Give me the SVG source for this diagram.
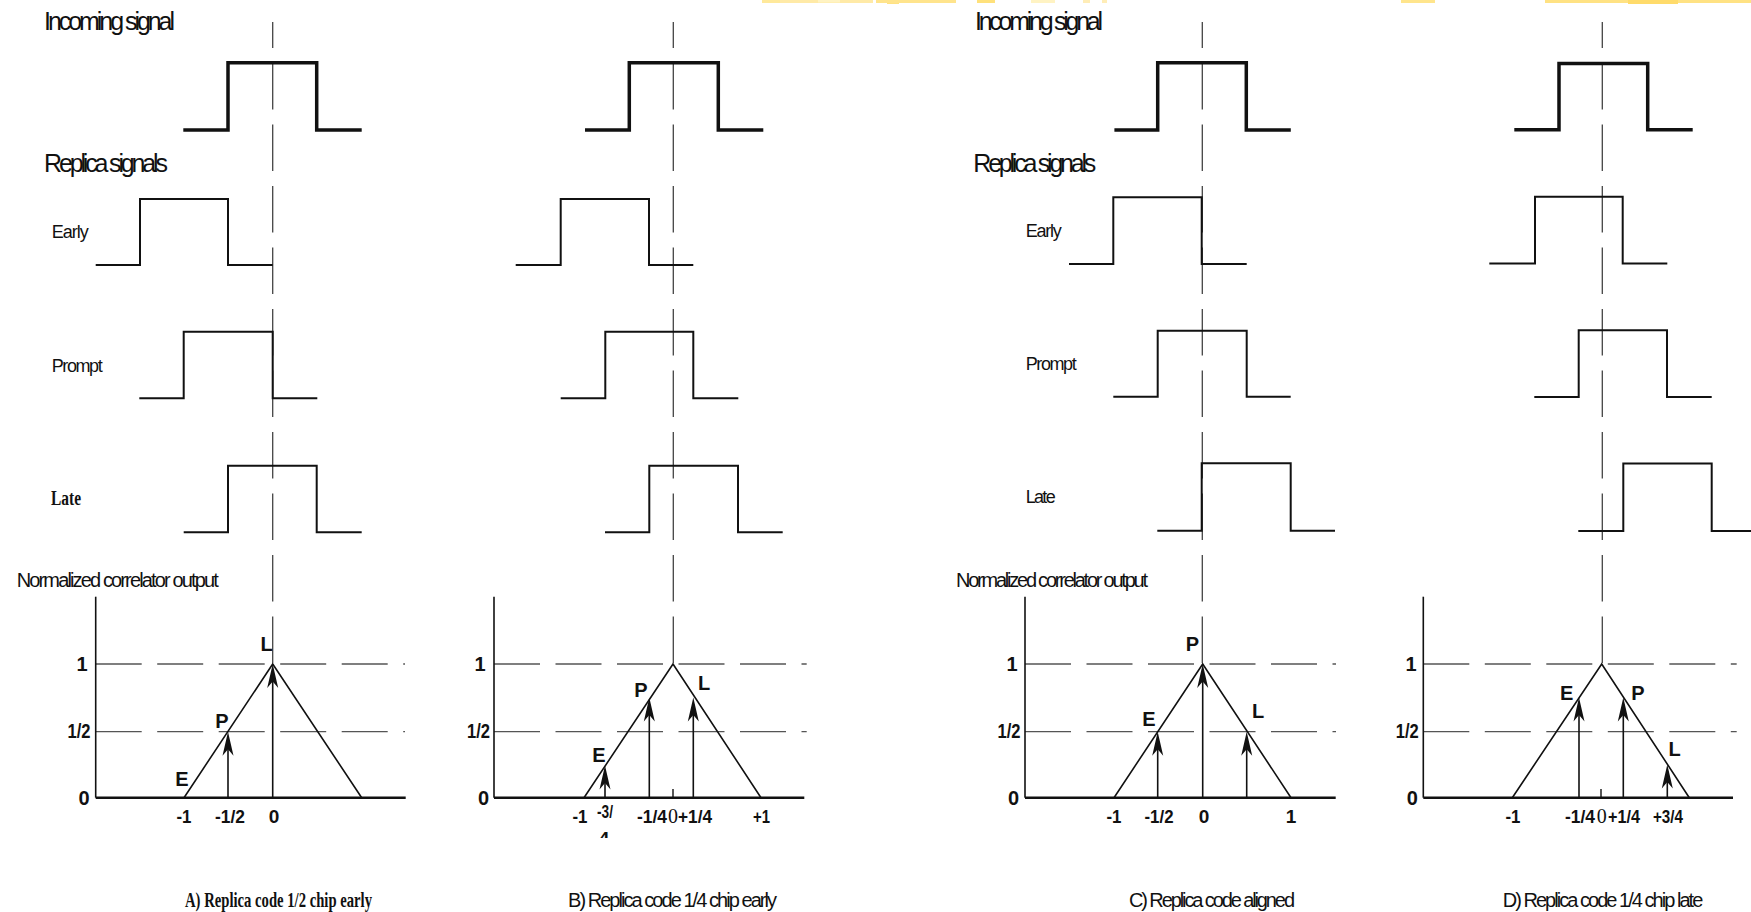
<svg xmlns="http://www.w3.org/2000/svg" width="1751" height="912" viewBox="0 0 1751 912">
  <style>
    .bg { fill: #ffffff; }
    .inc { fill: none; stroke: #111; stroke-width: 3.5; stroke-linejoin: miter; }
    .rep { fill: none; stroke: #111; stroke-width: 2; stroke-linejoin: miter; }
    .vdash { stroke: #444; stroke-width: 1.3; stroke-dasharray: 46.5 15; stroke-dashoffset: 20.5; fill: none; }
    .hdash { stroke: #555; stroke-width: 1.3; stroke-dasharray: 46 15.5; fill: none; }
    .yaxis { stroke: #111; stroke-width: 1.6; }
    .xaxis { stroke: #111; stroke-width: 2.6; }
    .tick { stroke: #111; stroke-width: 1.4; }
    .tri { fill: none; stroke: #111; stroke-width: 1.6; stroke-linejoin: miter; }
    .stem { stroke: #111; stroke-width: 1.6; }
    .head { fill: #111; }
    .title { font-family: "Liberation Sans", Arial, sans-serif; font-size: 25px; fill: #111; }
    .sig { font-family: "Liberation Sans", Arial, sans-serif; font-size: 18px; fill: #111; }
    .sigserif { font-family: "Liberation Serif", "Times New Roman", serif; font-size: 20px; font-weight: bold; fill: #111; }
    .ylab { font-family: "Liberation Sans", Arial, sans-serif; font-size: 20px; font-weight: bold; fill: #111; text-anchor: middle; }
    .xlab { font-family: "Liberation Sans", Arial, sans-serif; font-size: 19px; font-weight: bold; fill: #111; text-anchor: middle; }
    .zero { font-family: "Liberation Serif", "Times New Roman", serif; font-size: 20px; fill: #111; text-anchor: middle; }
    .pt { font-family: "Liberation Sans", Arial, sans-serif; font-size: 20px; font-weight: bold; fill: #111; text-anchor: middle; }
    .axtitle { font-family: "Liberation Sans", Arial, sans-serif; font-size: 20px; fill: #111; }
    .cap { font-family: "Liberation Sans", Arial, sans-serif; font-size: 20px; fill: #111; }
    .capserif { font-family: "Liberation Serif", "Times New Roman", serif; font-size: 21px; font-weight: bold; fill: #111; }
  </style>
  <defs>
    <!-- notched dart arrowhead, tip at origin pointing up -->
    <path id="ah" class="head" d="M0 0 L-5.5 24 L0 17.5 L5.5 24 Z"/>
    <clipPath id="clip34">
      <rect x="590" y="826" width="30" height="12"/>
    </clipPath>
  </defs>

  <rect class="bg" x="0" y="0" width="1751" height="912"/>

  <!-- thin highlight strip along the top edge -->
  <g id="top-strip" opacity="0.75">
    <rect x="762" y="0" width="18" height="3" fill="#ffe27a"/>
    <rect x="780" y="0" width="93" height="3" fill="#ffe48a"/>
    <rect x="818" y="0" width="22" height="2.5" fill="#fff0b0"/>
    <rect x="887" y="0" width="12" height="4" fill="#ffd95a"/>
    <rect x="876" y="0" width="80" height="3" fill="#ffdc66"/>
    <rect x="977" y="0" width="18" height="3" fill="#ffd84f"/>
    <rect x="1031" y="0" width="24" height="3" fill="#fff0b0"/>
    <rect x="1083" y="0" width="7" height="3" fill="#ffe8a0"/>
    <rect x="1102" y="0" width="5" height="3" fill="#ffe8a0"/>
    <rect x="1401" y="0" width="34" height="3" fill="#ffdc66"/>
    <rect x="1545" y="0" width="206" height="3" fill="#ffd95a"/>
    <rect x="1628" y="0" width="50" height="4" fill="#ffcf3a"/>
  </g>

  <!-- ===== Panel A: replica 1/2 chip early ===== -->
  <g id="panel-a">
    <g id="a-labels">
      <text class="title" x="44" y="30" textLength="131" lengthAdjust="spacing">Incoming signal</text>
      <text class="title" x="44" y="171.7" font-size="24" textLength="124" lengthAdjust="spacing">Replica signals</text>
      <text class="sig" x="51.7" y="238" textLength="37" lengthAdjust="spacing">Early</text>
      <text class="sig" x="51.7" y="371.7" textLength="51" lengthAdjust="spacing">Prompt</text>
      <text class="sigserif" x="51" y="505" textLength="30" lengthAdjust="spacingAndGlyphs">Late</text>
      <text class="axtitle" x="16.7" y="586.7" textLength="202" lengthAdjust="spacing">Normalized correlator output</text>
    </g>
    <line class="vdash" x1="272.7" y1="22" x2="272.7" y2="664"/>
    <path id="a-incoming" class="inc" d="M183.3,130 H228 V62.7 H316.7 V130 H361.7"/>
    <path id="a-early" class="rep" d="M95.7,265 H140 V199 H228 V265 H272.7"/>
    <path id="a-prompt" class="rep" d="M139.3,398.3 H183.7 V331.7 H272.7 V398.3 H317.3"/>
    <path id="a-late" class="rep" d="M183.7,532.3 H228 V465.7 H316.7 V532.3 H361.7"/>
    <g id="a-plot">
      <line class="hdash" x1="95.7" y1="664" x2="405" y2="664"/>
      <line class="hdash" x1="95.7" y1="731.7" x2="405" y2="731.7"/>
      <line class="yaxis" x1="95.7" y1="596.7" x2="95.7" y2="797.7"/>
      <line class="xaxis" x1="95.7" y1="797.7" x2="405.7" y2="797.7"/>
      <path class="tri" d="M184,797.7 L272.7,664 L361.7,797.7"/>
      <line class="stem" x1="228" y1="797.7" x2="228" y2="740"/>
      <use href="#ah" x="228" y="731.7"/>
      <line class="stem" x1="272.7" y1="797.7" x2="272.7" y2="672"/>
      <use href="#ah" x="272.7" y="664"/>
      <text class="ylab" x="82" y="671">1</text>
      <text class="ylab" x="79" y="738.3" textLength="23" lengthAdjust="spacingAndGlyphs">1/2</text>
      <text class="ylab" x="84" y="805">0</text>
      <text class="pt" x="266.5" y="651">L</text>
      <text class="pt" x="222" y="728">P</text>
      <text class="pt" x="182" y="786">E</text>
      <text class="xlab" x="184" y="823" textLength="15" lengthAdjust="spacingAndGlyphs">-1</text>
      <text class="xlab" x="230" y="823" textLength="30" lengthAdjust="spacingAndGlyphs">-1/2</text>
      <text class="xlab" x="274" y="823">0</text>
    </g>
    <text class="capserif" x="185" y="906.7" textLength="187" lengthAdjust="spacingAndGlyphs">A) Replica code 1/2 chip early</text>
  </g>

  <!-- ===== Panel B: replica 1/4 chip early ===== -->
  <g id="panel-b">
    <line class="vdash" x1="673.3" y1="22" x2="673.3" y2="664"/>
    <path id="b-incoming" class="inc" d="M585,130 H629.3 V62.7 H718.3 V130 H763.3"/>
    <path id="b-early" class="rep" d="M515.7,265 H560.7 V199 H649 V265 H693.3"/>
    <path id="b-prompt" class="rep" d="M560.7,398.3 H605.3 V331.7 H693.3 V398.3 H738.3"/>
    <path id="b-late" class="rep" d="M605,532.3 H649.3 V465.7 H738 V532.3 H782.7"/>
    <g id="b-plot">
      <line class="hdash" x1="494" y1="664" x2="806.7" y2="664"/>
      <line class="hdash" x1="494" y1="731.7" x2="806.7" y2="731.7"/>
      <line class="yaxis" x1="494" y1="596.7" x2="494" y2="797.7"/>
      <line class="xaxis" x1="494" y1="797.7" x2="804.3" y2="797.7"/>
      <line class="tick" x1="673" y1="789" x2="673" y2="797.7"/>
      <path class="tri" d="M584,797.7 L673,664 L761,797.7"/>
      <line class="stem" x1="605" y1="797.7" x2="605" y2="773"/>
      <use href="#ah" x="605" y="765.5"/>
      <line class="stem" x1="649.3" y1="797.7" x2="649.3" y2="705"/>
      <use href="#ah" x="649.3" y="697.5"/>
      <line class="stem" x1="693.3" y1="797.7" x2="693.3" y2="705"/>
      <use href="#ah" x="693.3" y="697.5"/>
      <text class="ylab" x="480" y="671">1</text>
      <text class="ylab" x="478.5" y="738.3" textLength="23" lengthAdjust="spacingAndGlyphs">1/2</text>
      <text class="ylab" x="483.5" y="805">0</text>
      <text class="pt" x="641" y="696.7">P</text>
      <text class="pt" x="704" y="690">L</text>
      <text class="pt" x="599" y="761.7">E</text>
      <text class="xlab" x="580" y="823" textLength="15" lengthAdjust="spacingAndGlyphs">-1</text>
      <text class="xlab" x="605" y="818" font-size="16" textLength="16" lengthAdjust="spacingAndGlyphs">-3/</text>
      <text class="xlab" x="604" y="845" font-size="16" clip-path="url(#clip34)">4</text>
      <text class="xlab" x="652" y="823" textLength="30" lengthAdjust="spacingAndGlyphs">-1/4</text>
      <text class="zero" x="673" y="823">0</text>
      <text class="xlab" x="695" y="823" textLength="34" lengthAdjust="spacingAndGlyphs">+1/4</text>
      <text class="xlab" x="761.5" y="823" textLength="17" lengthAdjust="spacingAndGlyphs">+1</text>
    </g>
    <text class="cap" x="568" y="906.7" textLength="209" lengthAdjust="spacing">B) Replica code 1/4 chip early</text>
  </g>

  <!-- ===== Panel C: replica aligned ===== -->
  <g id="panel-c">
    <g id="c-labels">
      <text class="title" x="975" y="30" textLength="128" lengthAdjust="spacing">Incoming signal</text>
      <text class="title" x="973.3" y="171.7" font-size="24" textLength="123" lengthAdjust="spacing">Replica signals</text>
      <text class="sig" x="1025.7" y="236.7" textLength="36" lengthAdjust="spacing">Early</text>
      <text class="sig" x="1025.7" y="370" textLength="51" lengthAdjust="spacing">Prompt</text>
      <text class="sig" x="1025.7" y="502.7" font-size="20" textLength="30" lengthAdjust="spacing">Late</text>
      <text class="axtitle" x="956" y="586.7" textLength="192" lengthAdjust="spacing">Normalized correlator output</text>
    </g>
    <line class="vdash" x1="1202.3" y1="22" x2="1202.3" y2="664"/>
    <path id="c-incoming" class="inc" d="M1114.4,130 H1157.7 V62.7 H1246.3 V130 H1290.8"/>
    <path id="c-early" class="rep" d="M1069,264 H1113.3 V197.3 H1201.7 V264 H1246.7"/>
    <path id="c-prompt" class="rep" d="M1113.3,396.7 H1157.7 V330.7 H1246.7 V396.7 H1290.7"/>
    <path id="c-late" class="rep" d="M1157.3,530.7 H1201.7 V463.3 H1290.7 V530.7 H1335"/>
    <g id="c-plot">
      <line class="hdash" x1="1025" y1="664" x2="1336" y2="664"/>
      <line class="hdash" x1="1025" y1="731.7" x2="1336" y2="731.7"/>
      <line class="yaxis" x1="1025" y1="596.7" x2="1025" y2="797.7"/>
      <line class="xaxis" x1="1025" y1="797.7" x2="1335.7" y2="797.7"/>
      <path class="tri" d="M1114,797.7 L1202.7,664 L1291,797.7"/>
      <line class="stem" x1="1157.7" y1="797.7" x2="1157.7" y2="740"/>
      <use href="#ah" x="1157.7" y="731.7"/>
      <line class="stem" x1="1202.7" y1="797.7" x2="1202.7" y2="672"/>
      <use href="#ah" x="1202.7" y="664"/>
      <line class="stem" x1="1246.7" y1="797.7" x2="1246.7" y2="740"/>
      <use href="#ah" x="1246.7" y="731.7"/>
      <text class="ylab" x="1012" y="671">1</text>
      <text class="ylab" x="1009" y="738.3" textLength="23" lengthAdjust="spacingAndGlyphs">1/2</text>
      <text class="ylab" x="1013.5" y="805">0</text>
      <text class="pt" x="1192.5" y="650.7">P</text>
      <text class="pt" x="1149" y="725.7">E</text>
      <text class="pt" x="1258" y="718">L</text>
      <text class="xlab" x="1114" y="823" textLength="15" lengthAdjust="spacingAndGlyphs">-1</text>
      <text class="xlab" x="1159" y="823" textLength="29" lengthAdjust="spacingAndGlyphs">-1/2</text>
      <text class="xlab" x="1204" y="823">0</text>
      <text class="xlab" x="1291" y="823">1</text>
    </g>
    <text class="cap" x="1129" y="906.7" textLength="166" lengthAdjust="spacing">C) Replica code aligned</text>
  </g>

  <!-- ===== Panel D: replica 1/4 chip late ===== -->
  <g id="panel-d">
    <line class="vdash" x1="1602.3" y1="22" x2="1602.3" y2="664"/>
    <path id="d-incoming" class="inc" d="M1514.3,129.8 H1559 V63.6 H1647.7 V129.8 H1692.7"/>
    <path id="d-early" class="rep" d="M1489.3,263.6 H1535 V196.7 H1622.7 V263.6 H1667.3"/>
    <path id="d-prompt" class="rep" d="M1534.3,397.1 H1578.7 V330.2 H1667 V397.1 H1711.7"/>
    <path id="d-late" class="rep" d="M1578.3,530.9 H1623.3 V463.6 H1711.7 V530.9 H1755"/>
    <g id="d-plot">
      <line class="hdash" x1="1423.3" y1="664" x2="1736.7" y2="664"/>
      <line class="hdash" x1="1423.3" y1="731.7" x2="1736.7" y2="731.7"/>
      <line class="yaxis" x1="1423.3" y1="596.7" x2="1423.3" y2="797.7"/>
      <line class="xaxis" x1="1423.3" y1="797.7" x2="1733" y2="797.7"/>
      <line class="tick" x1="1601" y1="789" x2="1601" y2="797.7"/>
      <path class="tri" d="M1512.3,797.7 L1601.7,664 L1689.3,797.7"/>
      <line class="stem" x1="1579" y1="797.7" x2="1579" y2="705"/>
      <use href="#ah" x="1579" y="697.5"/>
      <line class="stem" x1="1623.3" y1="797.7" x2="1623.3" y2="705"/>
      <use href="#ah" x="1623.3" y="697.5"/>
      <line class="stem" x1="1667.3" y1="797.7" x2="1667.3" y2="772"/>
      <use href="#ah" x="1667.3" y="764.5"/>
      <text class="ylab" x="1411" y="671">1</text>
      <text class="ylab" x="1407.3" y="738.3" textLength="23" lengthAdjust="spacingAndGlyphs">1/2</text>
      <text class="ylab" x="1412.3" y="805">0</text>
      <text class="pt" x="1566.7" y="700">E</text>
      <text class="pt" x="1638" y="700">P</text>
      <text class="pt" x="1674.5" y="755.7">L</text>
      <text class="xlab" x="1513" y="823" textLength="15" lengthAdjust="spacingAndGlyphs">-1</text>
      <text class="xlab" x="1580" y="823" textLength="30" lengthAdjust="spacingAndGlyphs">-1/4</text>
      <text class="zero" x="1601.7" y="823">0</text>
      <text class="xlab" x="1624" y="823" textLength="32" lengthAdjust="spacingAndGlyphs">+1/4</text>
      <text class="xlab" x="1668" y="823" textLength="30" lengthAdjust="spacingAndGlyphs">+3/4</text>
    </g>
    <text class="cap" x="1502.7" y="906.7" textLength="200.6" lengthAdjust="spacing">D) Replica code 1/4 chip late</text>
  </g>
</svg>
